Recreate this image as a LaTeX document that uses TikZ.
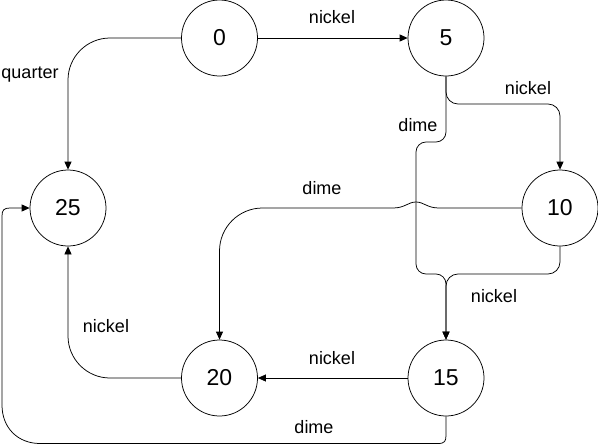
\documentclass[tikz,border=0pt]{standalone}
\usepackage{fontspec}
\setmainfont{Liberation Sans}
\usetikzlibrary{arrows.meta}
\tikzset{
  state/.style={draw, circle, line width=0.75pt, minimum size=76pt, inner sep=0pt, font=\fontsize{23}{26}\selectfont},
  arr/.style={draw, line width=0.75pt, -{Triangle[length=8pt,width=7pt]}},
  lbl/.style={inner sep=0pt, font=\fontsize{18}{21}\selectfont}
}
\begin{document}
\begin{tikzpicture}[x=1pt,y=-1pt]
\useasboundingbox (0,0) rectangle (598,445);
\node[state] (n0) at (219.5,38) {0};
\node[state] (n5) at (446,38) {5};
\node[state] (n25) at (68,208) {25};
\node[state] (n10) at (560,208) {10};
\node[state] (n20) at (219.5,378) {20};
\node[state] (n15) at (446,378) {15};
% 0 -> 5
\draw[arr] (n0.east) -- (n5.west);
\node[lbl] (l1) at (332,17) {nickel};
% 0 -> 25
\draw[arr, rounded corners=42pt] (n0.west) -| (n25.north);
\node[lbl] (l2) at (30,75) {quarter};
% 5 -> 10
\draw[arr, rounded corners=12pt] (n5.south) -- (446,104) -| (n10.north);
\node[lbl] (l3) at (528,88) {nickel};
% 5 -> 15
\draw[arr, rounded corners=10pt] (n5.south) -- (446,142) -- (416,142) -- (416,274) -- (446,274) -- (n15.north);
\node[lbl] (l4) at (418,125) {dime};
% 10 -> 15
\draw[arr, rounded corners=12pt] (n10.south) -- (560,274) -- (446,274) -- (n15.north);
\node[lbl] (l5) at (494,296) {nickel};
% 10 -> 20 with line jump
\coordinate (j1) at (439,208);
\coordinate (j2) at (393,208);
\draw[arr] (n10.west) -- (j1) .. controls (427,208) and (424,202) .. (416,202) .. controls (408,202) and (405,208) .. (j2) [rounded corners=43pt] -- (219.5,208) -- (n20.north);
\node[lbl] (l6) at (322,188) {dime};
% 15 -> 20
\draw[arr] (n15.west) -- (n20.east);
\node[lbl] (l7) at (332,358) {nickel};
% 20 -> 25
\draw[arr, rounded corners=42pt] (n20.west) -| (n25.south);
\node[lbl] (l8) at (106,326) {nickel};
% 15 -> 25
\draw[arr] (n15.south) -- (446,435) .. controls (446,441) and (445,443.5) .. (438,443.5) -- (40,443.5) .. controls (18,443.5) and (2,428) .. (2,405) -- (2,216) .. controls (2,210) and (4,208) .. (10,208) -- (n25.west);
\node[lbl] (l9) at (314,427) {dime};
\end{tikzpicture}
\end{document}
